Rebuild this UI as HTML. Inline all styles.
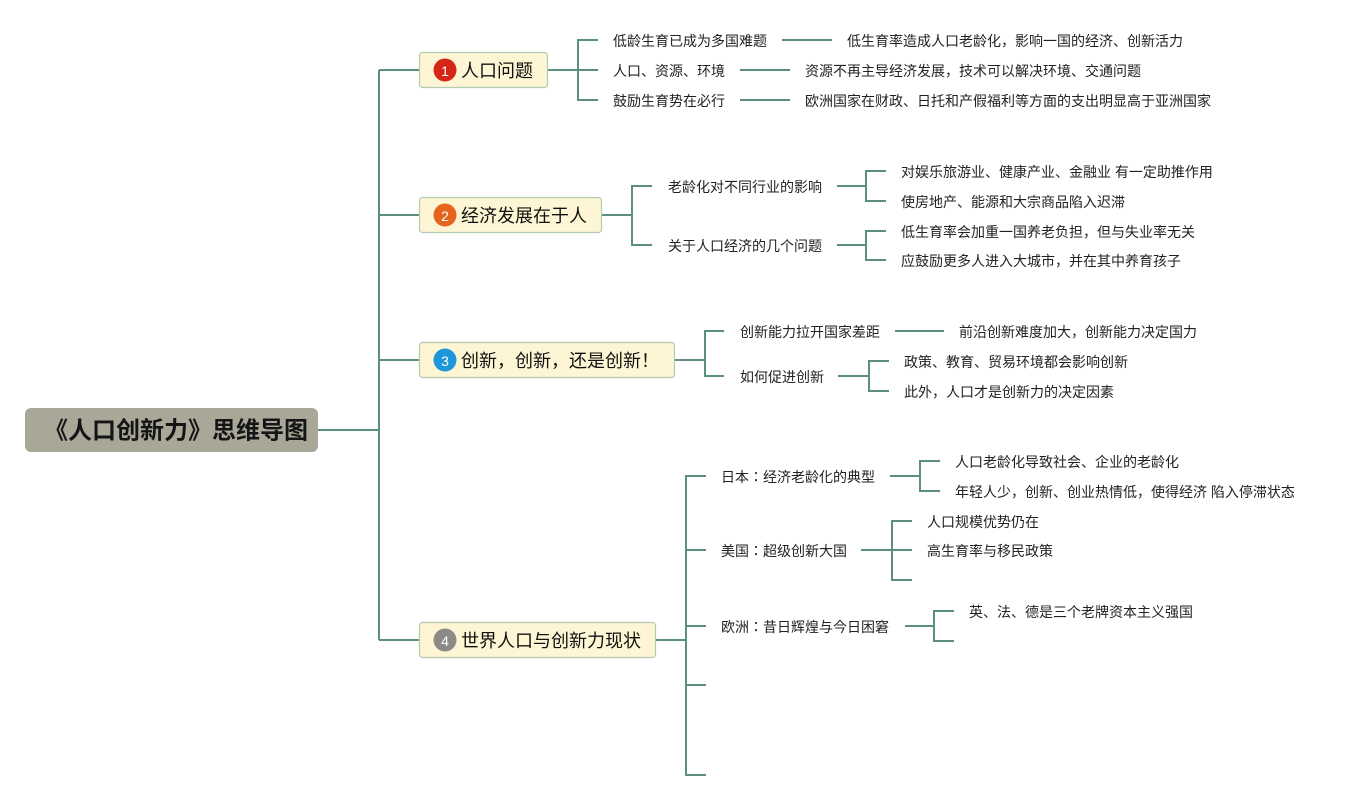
<!DOCTYPE html>
<html>
<head>
<meta charset="utf-8">
<style>
  html,body{margin:0;padding:0;background:#fff;}
  body{width:1355px;height:800px;overflow:hidden;}
  svg{display:block;}
  text{font-family:"Liberation Sans","Noto Sans CJK SC",sans-serif;fill:#222;}
  .t{font-size:14px;dominant-baseline:central;}
  .j{font-family:"Liberation Sans","Noto Sans CJK JP",sans-serif;}
  .m{font-size:18px;dominant-baseline:central;fill:#111;}
  .n{font-size:14px;dominant-baseline:central;text-anchor:middle;fill:#fff;}
</style>
</head>
<body>
<svg width="1355" height="800" viewBox="0 0 1355 800" xmlns="http://www.w3.org/2000/svg">
  <g fill="none" stroke="#5c8e83" stroke-width="2">
    <!-- root -->
    <line x1="318" y1="430" x2="379" y2="430"/>
    <line x1="379" y1="70" x2="379" y2="640"/>
    <line x1="379" y1="70" x2="419" y2="70"/>
    <line x1="379" y1="215" x2="419" y2="215"/>
    <line x1="379" y1="360" x2="419" y2="360"/>
    <line x1="379" y1="640" x2="419" y2="640"/>

    <!-- node1 -->
    <line x1="548" y1="70" x2="578" y2="70"/>
    <polyline points="598,40 578,40 578,100 598,100"/>
    <line x1="578" y1="70" x2="598" y2="70"/>
    <line x1="782" y1="40" x2="832" y2="40"/>
    <line x1="740" y1="70" x2="790" y2="70"/>
    <line x1="740" y1="100" x2="790" y2="100"/>

    <!-- node2 -->
    <line x1="602" y1="215" x2="632" y2="215"/>
    <polyline points="652,186 632,186 632,245 652,245"/>
    <line x1="837" y1="186" x2="866" y2="186"/>
    <polyline points="886,171 866,171 866,201 886,201"/>
    <line x1="837" y1="245" x2="866" y2="245"/>
    <polyline points="886,231 866,231 866,260 886,260"/>

    <!-- node3 -->
    <line x1="675" y1="360" x2="705" y2="360"/>
    <polyline points="724,331 705,331 705,376 724,376"/>
    <line x1="895" y1="331" x2="944" y2="331"/>
    <line x1="838" y1="376" x2="869" y2="376"/>
    <polyline points="889,361 869,361 869,391 889,391"/>

    <!-- node4 -->
    <line x1="656" y1="640" x2="686" y2="640"/>
    <polyline points="706,476 686,476 686,775 706,775"/>
    <line x1="686" y1="550" x2="706" y2="550"/>
    <line x1="686" y1="626" x2="706" y2="626"/>
    <line x1="686" y1="685" x2="706" y2="685"/>

    <line x1="890" y1="476" x2="920" y2="476"/>
    <polyline points="940,461 920,461 920,491 940,491"/>

    <line x1="861" y1="550" x2="892" y2="550"/>
    <polyline points="912,521 892,521 892,580 912,580"/>
    <line x1="892" y1="550" x2="912" y2="550"/>

    <line x1="905" y1="626" x2="934" y2="626"/>
    <polyline points="954,611 934,611 934,641 954,641"/>
  </g>

  <!-- root box -->
  <rect x="25" y="408" width="293" height="44" rx="6" ry="6" fill="#a9a798"/>
  <text x="44" y="431" style="font-size:24px;font-weight:bold;dominant-baseline:central;fill:#151515;">《人口创新力》思维导图</text>

  <!-- main nodes -->
  <g stroke="#b2ccb4" stroke-width="1.2" fill="#fdf5d3">
    <rect x="419.5" y="52.5" width="128" height="35" rx="3"/>
    <rect x="419.5" y="197.5" width="182" height="35" rx="3"/>
    <rect x="419.5" y="342.5" width="255" height="35" rx="3"/>
    <rect x="419.5" y="622.5" width="236" height="35" rx="3"/>
  </g>
  <circle cx="445" cy="70" r="11.5" fill="#d42516"/>
  <circle cx="445" cy="215" r="11.5" fill="#e4651b"/>
  <circle cx="445" cy="360" r="11.5" fill="#1d97d9"/>
  <circle cx="445" cy="640" r="11.5" fill="#8a8a88"/>
  <text class="n" x="445" y="71">1</text>
  <text class="n" x="445" y="216">2</text>
  <text class="n" x="445" y="361">3</text>
  <text class="n" x="445" y="641">4</text>

  <text class="m" x="461" y="71">人口问题</text>
  <text class="m" x="461" y="216">经济发展在于人</text>
  <text class="m" x="461" y="361">创新，创新，还是创新！</text>
  <text class="m" x="461" y="641">世界人口与创新力现状</text>

  <!-- node1 texts -->
  <text class="t" x="613" y="41">低龄生育已成为多国难题</text>
  <text class="t" x="613" y="71">人口、资源、环境</text>
  <text class="t" x="613" y="101">鼓励生育势在必行</text>
  <text class="t" x="847" y="41">低生育率造成人口老龄化，影响一国的经济、创新活力</text>
  <text class="t" x="805" y="71">资源不再主导经济发展，技术可以解决环境、交通问题</text>
  <text class="t" x="805" y="101">欧洲国家在财政、日托和产假福利等方面的支出明显高于亚洲国家</text>

  <!-- node2 texts -->
  <text class="t" x="668" y="187">老龄化对不同行业的影响</text>
  <text class="t" x="668" y="246">关于人口经济的几个问题</text>
  <text class="t" x="901" y="172">对娱乐旅游业、健康产业、金融业 有一定助推作用</text>
  <text class="t" x="901" y="202">使房地产、能源和大宗商品陷入迟滞</text>
  <text class="t" x="901" y="232">低生育率会加重一国养老负担，但与失业率无关</text>
  <text class="t" x="901" y="261">应鼓励更多人进入大城市，并在其中养育孩子</text>

  <!-- node3 texts -->
  <text class="t" x="740" y="332">创新能力拉开国家差距</text>
  <text class="t" x="740" y="377">如何促进创新</text>
  <text class="t" x="959" y="332">前沿创新难度加大，创新能力决定国力</text>
  <text class="t" x="904" y="362">政策、教育、贸易环境都会影响创新</text>
  <text class="t" x="904" y="392">此外，人口才是创新力的决定因素</text>

  <!-- node4 texts -->
  <text class="t j" x="721" y="477">日本：经济老龄化的典型</text>
  <text class="t j" x="721" y="551">美国：超级创新大国</text>
  <text class="t j" x="721" y="627">欧洲：昔日辉煌与今日困窘</text>
  <text class="t" x="955" y="462">人口老龄化导致社会、企业的老龄化</text>
  <text class="t" x="955" y="492">年轻人少，创新、创业热情低，使得经济 陷入停滞状态</text>
  <text class="t" x="927" y="522">人口规模优势仍在</text>
  <text class="t" x="927" y="551">高生育率与移民政策</text>
  <text class="t" x="969" y="612">英、法、德是三个老牌资本主义强国</text>
</svg>
</body>
</html>
